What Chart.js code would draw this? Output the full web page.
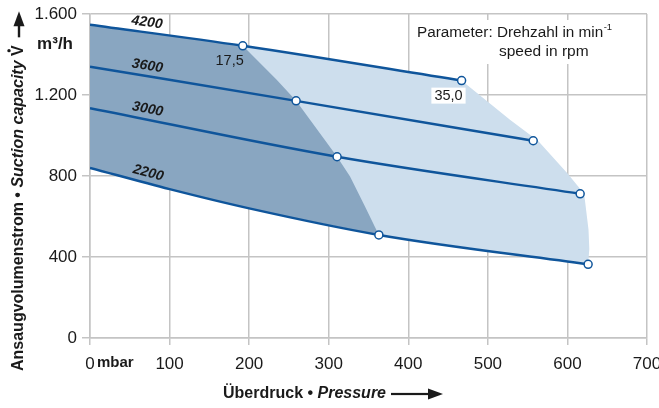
<!DOCTYPE html>
<html>
<head>
<meta charset="utf-8">
<script src="https://cdn.jsdelivr.net/npm/chart.js@4.4.1/dist/chart.umd.min.js"></script>
<style>
  html, body { margin: 0; padding: 0; background: #fff; }
  #wrap { width: 659px; height: 408px; }
</style>
</head>
<body>
<div id="wrap"><canvas id="kennlinie"></canvas></div>
<script>
// Drehzahlen (Parameter)
const speeds = ["4200", "3600", "3000", "2200"];

// Kennlinien: Überdruck (mbar) / Ansaugvolumenstrom (m³/h)
const p4200 = [0, 192, 467];
const q4200 = [1547, 1443, 1271];
const p3600 = [0, 259, 557];
const q3600 = [1340, 1171, 974];
const p3000 = [0, 310.5, 616];
const q3000 = [1135, 895, 712];
const p2200 = [0, 100, 200, 363, 626];
const q2200 = [840, 735, 640, 509, 364];

// Grenzpunkte 17,5 und 35,0 auf jeder Kennlinie
const cut175 = [192, 259, 310.5, 363];
const cut350 = [467, 557, 616, 626];
const cutLabels = ["17,5", "35,0"];

// Grenzkurven zwischen den Kennlinien
const edge175P = [234.6, 259, 276.5, 299.5, 310.5, 326.8, 345.6];
const edge175Q = [1275, 1171, 1078, 954, 895, 797, 649];
const edge350P = [527.8, 563, 599.9, 621, 626.5, 627.5];
const edge350Q = [1078, 974, 814, 712, 534, 440];

// Achsen
const xTicks = [0, 100, 200, 300, 400, 500, 600, 700];
const yTicks = [0, 400, 800, 1200, 1600];

const blau = "#0f559b";
const dunkel = "#89a6c1";
const hell = "#cddeed";
const gitter = "#c4c4c4";
const text = "#1a1a1a";
const FONT = '"Liberation Sans", Arial, Helvetica, sans-serif';

function pts(p, q) {
  return p.map((x, i) => ({ x: x, y: q[i] }));
}

const linien = [pts(p4200, q4200), pts(p3600, q3600), pts(p3000, q3000), pts(p2200, q2200)];

// Flächen
const flaecheDunkel = [
  ...linien[0].filter((d) => d.x <= cut175[0]),
  ...pts(edge175P, edge175Q),
  ...linien[3].filter((d) => d.x <= cut175[3]).reverse(),
];
const flaecheHell = [
  ...linien[0],
  ...pts(edge350P, edge350Q),
  ...linien[3].slice().reverse(),
];

function fmt(v) {
  const s = String(v);
  return v >= 1000 ? s.slice(0, s.length - 3) + "." + s.slice(-3) : s;
}

function istMarke(x) {
  return cut175.includes(x) || cut350.includes(x);
}

const datasets = [
  {
    data: flaecheHell,
    showLine: true,
    fill: "shape",
    backgroundColor: hell,
    borderWidth: 0,
    pointRadius: 0,
    tension: 0,
    order: 6,
  },
  {
    data: flaecheDunkel,
    showLine: true,
    fill: "shape",
    backgroundColor: dunkel,
    borderWidth: 0,
    pointRadius: 0,
    tension: 0,
    order: 5,
  },
];

linien.forEach((l, i) => {
  datasets.push({
    label: speeds[i],
    data: l,
    showLine: true,
    fill: false,
    borderColor: blau,
    borderWidth: 2.5,
    cubicInterpolationMode: "monotone",
    pointRadius: (ctx) => (istMarke(ctx.raw.x) ? 4 : 0),
    pointBackgroundColor: "#fff",
    pointBorderColor: blau,
    pointBorderWidth: 1.5,
    order: 1,
  });
});

// Beschriftungen im Diagramm
const beschriftung = {
  id: "beschriftung",
  afterDraw(chart) {
    const ctx = chart.ctx;
    const xs = chart.scales.x;
    const ys = chart.scales.y;
    ctx.save();
    ctx.fillStyle = text;

    // Drehzahl an den Linien
    ctx.font = "italic bold 14px " + FONT;
    ctx.textAlign = "center";
    ctx.textBaseline = "middle";
    linien.forEach((l, i) => {
      const a = l[0], b = l[1];
      const x0 = xs.getPixelForValue(a.x), y0 = ys.getPixelForValue(a.y);
      const x1 = xs.getPixelForValue(b.x), y1 = ys.getPixelForValue(b.y);
      const ang = Math.atan2(y1 - y0, x1 - x0);
      const px = xs.getPixelForValue(70);
      const t = (px - x0) / (x1 - x0);
      const py = y0 + t * (y1 - y0);
      ctx.save();
      ctx.translate(px + Math.sin(ang) * 10, py - Math.cos(ang) * 10);
      ctx.rotate(ang);
      ctx.fillText(speeds[i], 0, 0);
      ctx.restore();
    });

    // 17,5 / 35,0
    ctx.font = "14.5px " + FONT;
    ctx.textAlign = "right";
    [[cut175[0], q4200[1]], [cut350[0], q4200[2]]].forEach((c, i) => {
      const x = xs.getPixelForValue(c[0]) + 1;
      const y = ys.getPixelForValue(c[1]) + 15;
      if (i === 1) {
        const w = ctx.measureText(cutLabels[i]).width;
        ctx.fillStyle = "#fff";
        ctx.fillRect(x - w - 3, y - 8, w + 6, 16);
        ctx.fillStyle = text;
      }
      ctx.fillText(cutLabels[i], x, y);
    });

    // Parameter-Kasten
    ctx.fillStyle = "#fff";
    ctx.fillRect(413, 20, 206, 44);
    ctx.fillStyle = text;
    ctx.textAlign = "left";
    ctx.font = "15.3px " + FONT;
    const t1 = "Parameter: Drehzahl in min";
    ctx.fillText(t1, 417, 33);
    const w1 = ctx.measureText(t1).width;
    ctx.font = "9.5px " + FONT;
    ctx.fillText("-1", 417 + w1 + 0.5, 27);
    ctx.font = "15.5px " + FONT;
    ctx.fillText("speed in rpm", 499, 52);

    // Einheit y
    ctx.font = "bold 17px " + FONT;
    ctx.textAlign = "right";
    ctx.fillText("m\u00b3/h", 73, 44);

    // "mbar" neben der 0, auf Höhe der Achsenbeschriftung
    const tk = xs.options.ticks;
    const yLab = xs.top + xs.options.grid.tickLength + tk.padding + tk.font.size * 0.6 - 1;
    ctx.font = "bold 15px " + FONT;
    ctx.textAlign = "left";
    ctx.textBaseline = "middle";
    ctx.fillText("mbar", 97, yLab);

    // x-Achsentitel
    let x = 223;
    const yT = 394;
    ctx.font = "bold 16px " + FONT;
    ctx.fillText("\u00dcberdruck \u2022 ", x, yT);
    x += ctx.measureText("\u00dcberdruck \u2022 ").width;
    ctx.font = "italic bold 16px " + FONT;
    ctx.fillText("Pressure", x, yT);
    x += ctx.measureText("Pressure").width + 5;
    ctx.fillRect(x, yT - 1.1, 40, 2.2);
    ctx.beginPath();
    ctx.moveTo(x + 52, yT);
    ctx.lineTo(x + 37, yT - 5.5);
    ctx.lineTo(x + 37, yT + 5.5);
    ctx.closePath();
    ctx.fill();

    // y-Achsentitel
    ctx.save();
    ctx.translate(19, 371);
    ctx.rotate(-Math.PI / 2);
    let s = 0;
    ctx.font = "bold 16px " + FONT;
    ctx.fillText("Ansaugvolumenstrom \u2022 ", s, 0);
    s += ctx.measureText("Ansaugvolumenstrom \u2022 ").width;
    ctx.font = "italic bold 16px " + FONT;
    ctx.fillText("Suction capacity ", s, 0);
    s += ctx.measureText("Suction capacity ").width;
    ctx.font = "bold 16px " + FONT;
    ctx.fillText("V", s, 0);
    const vw = ctx.measureText("V").width;
    ctx.beginPath();
    ctx.arc(s + vw / 2, -10, 1.7, 0, Math.PI * 2);
    ctx.fill();
    s += vw + 8;
    ctx.fillRect(s, -1.2, 14, 2.4);
    ctx.beginPath();
    ctx.moveTo(s + 26, 0);
    ctx.lineTo(s + 11, -5.5);
    ctx.lineTo(s + 11, 5.5);
    ctx.closePath();
    ctx.fill();
    ctx.restore();

    ctx.restore();
  },
};

new Chart(document.getElementById("kennlinie"), {
  type: "scatter",
  data: { datasets: datasets },
  options: {
    responsive: true,
    maintainAspectRatio: false,
    animation: false,
    layout: { padding: { left: 0, top: 14, right: 12, bottom: 0 } },
    plugins: {
      legend: { display: false },
      tooltip: { enabled: false },
    },
    scales: {
      x: {
        type: "linear",
        min: 0,
        max: 700,
        afterBuildTicks: (s) => { s.ticks = xTicks.map((v) => ({ value: v })); },
        afterFit: (s) => { s.height = 70; s.paddingLeft = 0; s.paddingRight = 0; },
        grid: { color: gitter, lineWidth: 1.5, tickLength: 7 },
        border: { color: gitter, width: 1.5 },
        ticks: {
          color: text,
          font: { family: FONT, size: 17 },
          padding: 9,
          maxRotation: 0,
          callback: (v) => fmt(v),
        },
      },
      y: {
        type: "linear",
        min: 0,
        max: 1600,
        afterBuildTicks: (s) => { s.ticks = yTicks.map((v) => ({ value: v })); },
        afterFit: (s) => { s.width = 90; s.paddingTop = 0; s.paddingBottom = 0; },
        grid: { color: gitter, lineWidth: 1.5, tickLength: 8 },
        border: { color: gitter, width: 1.5 },
        ticks: {
          color: text,
          font: { family: FONT, size: 17 },
          padding: 5,
          callback: (v) => fmt(v),
        },
      },
    },
  },
  plugins: [beschriftung],
});
</script>
</body>
</html>
